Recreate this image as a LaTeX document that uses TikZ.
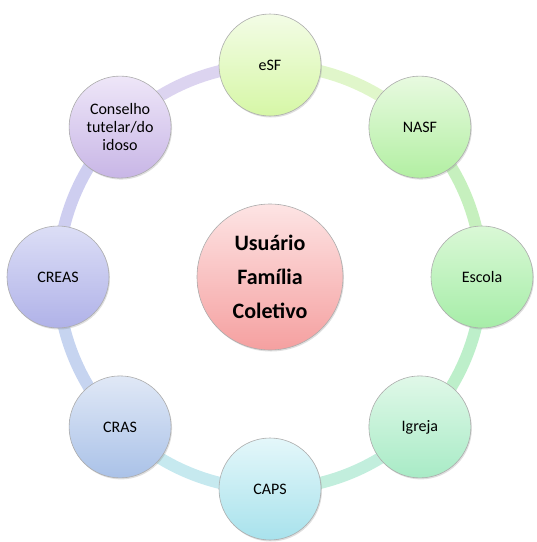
\documentclass[tikz,border=0pt]{standalone}
\usepackage{fontspec}
\setmainfont{Carlito}
\usetikzlibrary{positioning}
\usetikzlibrary{shadows}
\usetikzlibrary{backgrounds}
\usetikzlibrary{calc}

% circle colours (top / bottom of the gradient)
\definecolor{esfT}{HTML}{F3FCE6}  \definecolor{esfB}{HTML}{D6F7A6}
\definecolor{nasfT}{HTML}{E8FAE0} \definecolor{nasfB}{HTML}{B2EFA2}
\definecolor{escT}{HTML}{DAF8D6}  \definecolor{escB}{HTML}{A6EDA8}
\definecolor{igrT}{HTML}{E0F8E8}  \definecolor{igrB}{HTML}{A8EBC6}
\definecolor{capsT}{HTML}{E4F7FA} \definecolor{capsB}{HTML}{A8E2EC}
\definecolor{crasT}{HTML}{E0E8F6} \definecolor{crasB}{HTML}{AAC2E8}
\definecolor{creaT}{HTML}{DCDEF6} \definecolor{creaB}{HTML}{B0B2E8}
\definecolor{consT}{HTML}{EEE6F8} \definecolor{consB}{HTML}{C8B6E6}
\definecolor{hubT}{HTML}{FDE4E4}  \definecolor{hubB}{HTML}{F5A0A0}

% ring colours
\definecolor{anel1}{HTML}{E0F6CA}
\definecolor{anel2}{HTML}{C6F0BE}
\definecolor{anel3}{HTML}{BDEFCA}
\definecolor{anel4}{HTML}{C2EEDD}
\definecolor{anel5}{HTML}{C6E9EF}
\definecolor{anel6}{HTML}{C6D4F0}
\definecolor{anel7}{HTML}{CECEF0}
\definecolor{anel8}{HTML}{DCD4F0}

\tikzset{
  sombra/.style={drop shadow={opacity=0.25, shadow xshift=1pt, shadow yshift=-1.5pt}},
  elo/.style={circle, draw=gray!65, line width=0.6pt, minimum size=102pt, inner sep=1pt,
    align=center, font=\fontsize{16}{18}\selectfont, sombra},
  nucleo/.style={circle, draw=gray!65, line width=0.6pt, minimum size=146pt, inner sep=1pt,
    align=center, font=\fontsize{22}{34}\selectfont\bfseries, sombra},
  anel/.style={line width=12pt},
}

\begin{document}
\begin{tikzpicture}[x=1pt, y=1pt]

  \useasboundingbox (0,0) rectangle (537,-542);

  \def\R{212};

 %centre
  \node[nucleo, top color=hubT, bottom color=hubB] (hub) at (270,-277) {Usuário\\Família\\Coletivo};

 %outer circles
  \foreach \ang/\name/\txt/\ct/\cb in { 90/esf/eSF/esfT/esfB, 45/nasf/NASF/nasfT/nasfB,
      0/escola/Escola/escT/escB, -45/igreja/Igreja/igrT/igrB, -90/caps/CAPS/capsT/capsB,
      -135/cras/CRAS/crasT/crasB, 180/creas/CREAS/creaT/creaB,
      135/conselho/{Conselho\\tutelar/do\\idoso}/consT/consB} {
      \node[elo, top color=\ct, bottom color=\cb] (\name) at ($(hub)+(\ang:\R)$) {\txt};
  }

 %ring
  \begin{pgfonlayer}{background}
  \foreach \a/\b/\c in { esf/nasf/anel1, nasf/escola/anel2, escola/igreja/anel3, igreja/caps/anel4,
      caps/cras/anel5, cras/creas/anel6, creas/conselho/anel7, conselho/esf/anel8} {
      \draw[anel, \c] (\a.center) to[bend left=22.5, looseness=0.885] (\b.center);
  }
  \end{pgfonlayer}

\end{tikzpicture}
\end{document}
